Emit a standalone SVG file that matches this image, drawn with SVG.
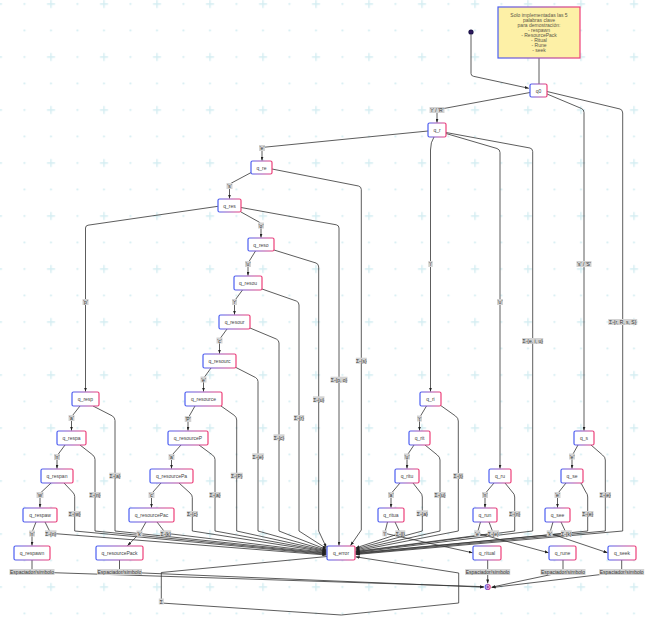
<svg xmlns="http://www.w3.org/2000/svg" width="653" height="634" viewBox="0 0 653 634">
<defs>
<style>
.n rect{fill:#fff;stroke:url(#gb);stroke-width:1.2}
.n text,.l text,.note text{font-family:"Liberation Sans",Arial,sans-serif;font-size:5px;text-anchor:middle;dominant-baseline:central}
.n text{fill:#444}
.e{fill:none;stroke:#333;stroke-width:0.8;stroke-linejoin:round}
.a{marker-end:url(#ar)}
.l rect{fill:#d3d3d3}
.l text{fill:#333}
.note text{fill:#5a5646}
</style>
<linearGradient id="gb" x1="0" y1="0" x2="1" y2="0"><stop offset="0" stop-color="#4a5ef2"/><stop offset="1" stop-color="#ee3f78"/></linearGradient>
<radialGradient id="gs"><stop offset="0" stop-color="#3a1a6a"/><stop offset="1" stop-color="#141040"/></radialGradient>
<marker id="ar" viewBox="0 0 8 6" refX="8" refY="3" markerWidth="4" markerHeight="3" markerUnits="userSpaceOnUse" orient="auto"><path d="M0,0 L8,3 L0,6 z" fill="#222"/></marker>
<pattern id="grid" x="11.25" y="-35.75" width="53" height="53" patternUnits="userSpaceOnUse">
<g fill="#d4edf2"><circle cx="13.25" cy="13.25" r="1.1"/><circle cx="39.75" cy="13.25" r="1.1"/><circle cx="13.25" cy="39.75" r="1.1"/></g>
<path d="M35.75,39.75h8M39.75,35.75v8" stroke="#d4edf2" stroke-width="1.4"/>
</pattern>
</defs>
<rect width="653" height="634" fill="#fff"/>
<rect width="653" height="634" fill="url(#grid)"/>

<g id="connectors">
<path class="e" d="M539,58 L539,84"/>
<path class="e a" d="M471,34.5 L471,73.5 Q471,75.8 473.5,76.3 L528.8,88.3"/>
<path class="e a" d="M530,92.5 L439.5,109.3 Q437,109.8 437,112 L437,122.6"/>
<path class="e a" d="M428,131 L264.5,147.2 Q262,147.5 262,150 L262,160.6"/>
<path class="e a" d="M251,172.6 L231.5,183 Q229.5,184 229.5,186.5 L229.5,198.6"/>
<path class="e a" d="M241,212 L259.5,222.3 Q261,223.2 261,225 L261,237.6"/>
<path class="e a" d="M218,206.3 L88,225.2 Q85.5,225.6 85.5,228 L85.5,391.6"/>
<path class="e a" d="M255.5,251 L249,261.5 Q248,263 248,265 L248,275.6"/>
<path class="e a" d="M242.5,290 L235.5,299.5 Q234.5,301 234.5,303 L234.5,314.6"/>
<path class="e a" d="M227,329 L220.5,338 Q219.5,339.5 219.5,341.5 L219.5,353.6"/>
<path class="e a" d="M211,368 L204.5,377 Q203.5,378.5 203.5,380.5 L203.5,391.6"/>
<path class="e a" d="M195,406 L189,416.5 Q188,418 188,420 L188,430.6"/>
<path class="e a" d="M181,445 L172.5,454.5 Q171.5,456 171.5,458 L171.5,468.6"/>
<path class="e a" d="M161,483 L152.5,492.5 Q151.5,494 151.5,496 L151.5,507.6"/>
<path class="e a" d="M146,522 L139.5,533.5 L127.5,545.7"/>
<path class="e a" d="M80,406 L72.5,415.5 Q71.5,417 71.5,419 L71.5,430.6"/>
<path class="e a" d="M65,445 L58,454.5 Q57,456 57,458 L57,468.6"/>
<path class="e a" d="M51,483 L41,492.5 Q40,494 40,496 L40,507.6"/>
<path class="e a" d="M36,522 L32.5,531 Q32,532.5 32,534 L32,545.6"/>
<path class="e a" d="M434,137 Q430.5,142 430.5,150 L430.5,391.6"/>
<path class="e a" d="M446,133.5 L497,148.5 Q500,149.5 500,152.5 L500,468.6"/>
<path class="e a" d="M426.5,406 L420.5,416 Q419.5,417.5 419.5,419.5 L419.5,430.6"/>
<path class="e a" d="M414,445 L408,454 Q407,455.5 407,457.5 L407,468.6"/>
<path class="e a" d="M400,483 L392,492.5 Q391,494 391,496 L391,507.6"/>
<path class="e a" d="M387.5,522 L384.7,533.3 L472.6,552.8"/>
<path class="e a" d="M494,483 L486,492.5 Q485,494 485,496 L485,507.6"/>
<path class="e a" d="M480.5,522 L477.3,533.3 L548.6,552.8"/>
<path class="e a" d="M547,94 L581.5,108.5 Q584,109.6 584,112.5 L584,430.6"/>
<path class="e a" d="M578,445 L573,454 Q572,455.5 572,457.5 L572,468.6"/>
<path class="e a" d="M566,483 L558.5,492.5 Q557.5,494 557.5,496 L557.5,507.6"/>
<path class="e a" d="M553,522 L549.7,533.3 L607.6,552.8"/>

<path class="e a" d="M547,91.5 L620,109 Q622.7,109.8 622.7,113 L622.7,531 L355.6,554.5"/>
<path class="e a" d="M446,132.5 L530,148 Q532.7,148.8 532.7,151.5 L532.7,531 L355.6,552.5"/>
<path class="e a" d="M591,445 L602.5,455 Q605.3,457 605.3,460 L605.3,531 L355.6,554"/>
<path class="e a" d="M581,483 L585.8,492 Q587.7,494 587.7,497 L587.7,531 L355.6,553.5"/>
<path class="e a" d="M561,522 L566.3,533.3 L355.6,553"/>
<path class="e a" d="M505,483 L512.3,492 Q514.7,494 514.7,497 L514.7,531 L355.6,552"/>
<path class="e a" d="M489,522 L493.3,533.3 L355.6,551.5"/>
<path class="e a" d="M440,405 L455.5,416 Q458.3,418 458.3,421 L458.3,531 L355.6,551"/>
<path class="e a" d="M425,445 L437.3,455 Q440,457 440,460 L440,531 L355.6,550"/>
<path class="e a" d="M413,483 L420,492 Q422.3,494 422.3,497 L422.3,531 L355.6,549"/>
<path class="e a" d="M395,522 L400.3,533.3 L355.6,548"/>

<path class="e a" d="M272,169 L358.5,186 Q361.3,186.8 361.3,189.5 L361.3,530 L350.5,545.6"/>
<path class="e a" d="M241,207.5 L336.3,224.8 Q339,225.4 339,228 L339,545.6"/>
<path class="e a" d="M274,250 L316,263 Q318.7,264 318.7,267 L318.7,531 L326.4,547.5"/>
<path class="e a" d="M262,289 L296.3,301 Q299,302 299,305 L299,531 L326.4,548.5"/>
<path class="e a" d="M250,328 L276.3,339 Q279,340.3 279,343 L279,531 L326.4,549.5"/>
<path class="e a" d="M235,367 L255.5,377.5 Q258,379 258,381.5 L258,531 L326.4,550.2"/>
<path class="e a" d="M221,406 L234.5,415.5 Q236.7,417.5 236.7,420 L236.7,531 L326.4,550.8"/>
<path class="e a" d="M199,445 L212.5,455 Q215,457 215,459.5 L215,531 L326.4,551.4"/>
<path class="e a" d="M179,483 L190,493 Q192.3,495 192.3,497.5 L192.3,531 L326.4,552"/>
<path class="e a" d="M157,522 L165.7,533.3 L326.4,552.6"/>
<path class="e a" d="M93,406 L112.5,416 Q115,418 115,420.5 L115,531 L326.4,553.2"/>
<path class="e a" d="M80,445 L92.8,455 Q95,457 95,459.5 L95,531 L326.4,553.8"/>
<path class="e a" d="M64,483 L72.5,492 Q74.7,494 74.7,496.5 L74.7,531 L326.4,554.4"/>
<path class="e a" d="M45,522 L50.7,533.3 L326.4,555"/>

<path class="e a" d="M327,556.5 L161.3,572.5 L161.3,603 L341.3,615 L458.7,603 L458.7,573 L355.6,556.8"/>

<path class="e a" d="M32,560 L32,572 L483.8,586.7"/>
<path class="e a" d="M119.5,560 L119.5,572 L483.8,587.2"/>
<path class="e a" d="M487.7,560 L487.7,583.4"/>
<path class="e a" d="M563,560 L563,572 L491.6,587.2"/>
<path class="e a" d="M621.7,560 L621.7,572 L491.6,587.6"/>

<g class="l"><rect x="429.5" y="107" width="15" height="6"/><text x="437" y="110.2">'r' / 'R'</text></g>
<g class="l"><rect x="259" y="145" width="6" height="6"/><text x="262" y="148.2">'e'</text></g>
<g class="l"><rect x="226.5" y="183" width="6" height="6"/><text x="229.5" y="186.2">'s'</text></g>
<g class="l"><rect x="258" y="222.5" width="6" height="6"/><text x="261" y="225.7">'o'</text></g>
<g class="l"><rect x="82.5" y="299" width="6" height="6"/><text x="85.5" y="302.2">'p'</text></g>
<g class="l"><rect x="245" y="261" width="6" height="6"/><text x="248" y="264.2">'u'</text></g>
<g class="l"><rect x="232" y="299" width="5" height="6"/><text x="234.5" y="302.2">'r'</text></g>
<g class="l"><rect x="216.5" y="337.5" width="6" height="6"/><text x="219.5" y="340.7">'c'</text></g>
<g class="l"><rect x="200.5" y="376.5" width="6" height="6"/><text x="203.5" y="379.7">'e'</text></g>
<g class="l"><rect x="184.75" y="416" width="6.5" height="6"/><text x="188" y="419.2">'P'</text></g>
<g class="l"><rect x="168.5" y="454" width="6" height="6"/><text x="171.5" y="457.2">'a'</text></g>
<g class="l"><rect x="148.5" y="492" width="6" height="6"/><text x="151.5" y="495.2">'c'</text></g>
<g class="l"><rect x="136.5" y="530.5" width="6" height="6"/><text x="139.5" y="533.7">'k'</text></g>
<g class="l"><rect x="68.5" y="415" width="6" height="6"/><text x="71.5" y="418.2">'a'</text></g>
<g class="l"><rect x="54" y="454" width="6" height="6"/><text x="57" y="457.2">'n'</text></g>
<g class="l"><rect x="36.5" y="492" width="7" height="6"/><text x="40" y="495.2">'w'</text></g>
<g class="l"><rect x="29" y="530.5" width="6" height="6"/><text x="32" y="533.7">'n'</text></g>
<g class="l"><rect x="428.25" y="261" width="4.5" height="6"/><text x="430.5" y="264.2">'i'</text></g>
<g class="l"><rect x="497" y="299" width="6" height="6"/><text x="500" y="302.2">'u'</text></g>
<g class="l"><rect x="417" y="415.5" width="5" height="6"/><text x="419.5" y="418.7">'t'</text></g>
<g class="l"><rect x="404" y="453.5" width="6" height="6"/><text x="407" y="456.7">'u'</text></g>
<g class="l"><rect x="388" y="492" width="6" height="6"/><text x="391" y="495.2">'a'</text></g>
<g class="l"><rect x="382.45" y="530.3" width="4.5" height="6"/><text x="384.7" y="533.5">'l'</text></g>
<g class="l"><rect x="482" y="492" width="6" height="6"/><text x="485" y="495.2">'n'</text></g>
<g class="l"><rect x="474.3" y="530.3" width="6" height="6"/><text x="477.3" y="533.5">'e'</text></g>
<g class="l"><rect x="576.5" y="261" width="15" height="6"/><text x="584" y="264.2">'s' / 'S'</text></g>
<g class="l"><rect x="569" y="453.5" width="6" height="6"/><text x="572" y="456.7">'e'</text></g>
<g class="l"><rect x="554.5" y="492" width="6" height="6"/><text x="557.5" y="495.2">'e'</text></g>
<g class="l"><rect x="546.7" y="530.3" width="6" height="6"/><text x="549.7" y="533.5">'k'</text></g>

<g class="l"><rect x="608.2" y="319" width="29" height="6"/><text x="622.7" y="322.2">Σ-{r, R, s, S}</text></g>
<g class="l"><rect x="522.2" y="338" width="21" height="6"/><text x="532.7" y="341.2">Σ-{e, i, u}</text></g>
<g class="l"><rect x="355.8" y="357.7" width="11" height="6"/><text x="361.3" y="360.9">Σ-{s}</text></g>
<g class="l"><rect x="330.5" y="376.7" width="17" height="6"/><text x="339" y="379.9">Σ-{p, o}</text></g>
<g class="l"><rect x="312.95" y="396.3" width="11.5" height="6"/><text x="318.7" y="399.5">Σ-{u}</text></g>
<g class="l"><rect x="293.75" y="415" width="10.5" height="6"/><text x="299" y="418.2">Σ-{r}</text></g>
<g class="l"><rect x="273.5" y="434.3" width="11" height="6"/><text x="279" y="437.5">Σ-{c}</text></g>
<g class="l"><rect x="252.25" y="453.3" width="11.5" height="6"/><text x="258" y="456.5">Σ-{e}</text></g>
<g class="l"><rect x="230.7" y="472.7" width="12" height="6"/><text x="236.7" y="475.9">Σ-{P}</text></g>
<g class="l"><rect x="209.25" y="492" width="11.5" height="6"/><text x="215" y="495.2">Σ-{a}</text></g>
<g class="l"><rect x="186.8" y="511" width="11" height="6"/><text x="192.3" y="514.2">Σ-{c}</text></g>
<g class="l"><rect x="160.2" y="530.3" width="11" height="6"/><text x="165.7" y="533.5">Σ-{k}</text></g>
<g class="l"><rect x="109.25" y="472.7" width="11.5" height="6"/><text x="115" y="475.9">Σ-{a}</text></g>
<g class="l"><rect x="89.25" y="492" width="11.5" height="6"/><text x="95" y="495.2">Σ-{n}</text></g>
<g class="l"><rect x="68.45" y="511" width="12.5" height="6"/><text x="74.7" y="514.2">Σ-{w}</text></g>
<g class="l"><rect x="44.95" y="530.3" width="11.5" height="6"/><text x="50.7" y="533.5">Σ-{n}</text></g>
<g class="l"><rect x="453.3" y="473" width="10" height="6"/><text x="458.3" y="476.2">Σ-{t}</text></g>
<g class="l"><rect x="434.25" y="492" width="11.5" height="6"/><text x="440" y="495.2">Σ-{u}</text></g>
<g class="l"><rect x="416.55" y="510.3" width="11.5" height="6"/><text x="422.3" y="513.5">Σ-{a}</text></g>
<g class="l"><rect x="395.3" y="530.3" width="10" height="6"/><text x="400.3" y="533.5">Σ-{l}</text></g>
<g class="l"><rect x="508.95" y="511" width="11.5" height="6"/><text x="514.7" y="514.2">Σ-{n}</text></g>
<g class="l"><rect x="487.55" y="530.3" width="11.5" height="6"/><text x="493.3" y="533.5">Σ-{e}</text></g>
<g class="l"><rect x="599.55" y="492" width="11.5" height="6"/><text x="605.3" y="495.2">Σ-{e}</text></g>
<g class="l"><rect x="581.95" y="511" width="11.5" height="6"/><text x="587.7" y="514.2">Σ-{e}</text></g>
<g class="l"><rect x="560.8" y="530.3" width="11" height="6"/><text x="566.3" y="533.5">Σ-{k}</text></g>
<g class="l"><rect x="158.8" y="598.5" width="5" height="6"/><text x="161.3" y="601.7">Σ</text></g>
<g class="l"><rect x="9.5" y="569" width="45" height="6"/><text x="32" y="572.2">Espaciador/símbolo</text></g>
<g class="l"><rect x="97" y="569" width="45" height="6"/><text x="119.5" y="572.2">Espaciador/símbolo</text></g>
<g class="l"><rect x="465.2" y="569" width="45" height="6"/><text x="487.7" y="572.2">Espaciador/símbolo</text></g>
<g class="l"><rect x="540.5" y="569" width="45" height="6"/><text x="563" y="572.2">Espaciador/símbolo</text></g>
<g class="l"><rect x="599.2" y="569" width="45" height="6"/><text x="621.7" y="572.2">Espaciador/símbolo</text></g>
</g>

<g id="note" class="note">
<rect x="498" y="7" width="82" height="51" fill="#fdf0a6" stroke="url(#gb)" stroke-width="1.2"/>
<text x="539" y="15">Solo implementadas las 5</text>
<text x="539" y="20">palabras clave</text>
<text x="539" y="25">para demostración:</text>
<text x="539" y="30">- respawn</text>
<text x="539" y="35">- ResourcePack</text>
<text x="539" y="40">- Ritual</text>
<text x="539" y="45">- Rune</text>
<text x="539" y="50">- seek</text>
</g>

<g id="start"><circle cx="471" cy="32" r="2.6" fill="url(#gs)"/></g>
<g id="final"><circle cx="487.7" cy="587" r="3.1" fill="url(#gb)"/><circle cx="487.7" cy="587" r="1.7" fill="none" stroke="#fff" stroke-width="0.6"/></g>

<g id="q0" class="n"><rect x="530" y="84" width="17" height="13" rx="1.5"/><text x="538.5" y="90.7">q0</text></g>
<g id="q_r" class="n"><rect x="428" y="123" width="18" height="14" rx="1.5"/><text x="437" y="130.2">q_r</text></g>
<g id="q_re" class="n"><rect x="251" y="161" width="21" height="13" rx="1.5"/><text x="261.5" y="167.7">q_re</text></g>
<g id="q_res" class="n"><rect x="218" y="199" width="23" height="13" rx="1.5"/><text x="229.5" y="205.7">q_res</text></g>
<g id="q_reso" class="n"><rect x="248" y="238" width="26" height="13" rx="1.5"/><text x="261" y="244.7">q_reso</text></g>
<g id="q_resou" class="n"><rect x="234" y="276" width="28" height="14" rx="1.5"/><text x="248" y="283.2">q_resou</text></g>
<g id="q_resour" class="n"><rect x="219" y="315" width="31" height="14" rx="1.5"/><text x="234.5" y="322.2">q_resour</text></g>
<g id="q_resourc" class="n"><rect x="203" y="354" width="33" height="14" rx="1.5"/><text x="219.5" y="361.2">q_resourc</text></g>
<g id="q_resource" class="n"><rect x="185" y="392" width="37" height="14" rx="1.5"/><text x="203.5" y="399.2">q_resource</text></g>
<g id="q_resourceP" class="n"><rect x="168" y="431" width="40" height="14" rx="1.5"/><text x="188" y="438.2">q_resourceP</text></g>
<g id="q_resourcePa" class="n"><rect x="150" y="469" width="43" height="14" rx="1.5"/><text x="171.5" y="476.2">q_resourcePa</text></g>
<g id="q_resourcePac" class="n"><rect x="129" y="508" width="45" height="14" rx="1.5"/><text x="151.5" y="515.2">q_resourcePac</text></g>
<g id="q_resourcePack" class="n"><rect x="96" y="546" width="47" height="14" rx="1.5"/><text x="119.5" y="553.2">q_resourcePack</text></g>
<g id="q_resp" class="n"><rect x="72" y="392" width="27" height="14" rx="1.5"/><text x="85.5" y="399.2">q_resp</text></g>
<g id="q_respa" class="n"><rect x="57" y="431" width="29" height="14" rx="1.5"/><text x="71.5" y="438.2">q_respa</text></g>
<g id="q_respan" class="n"><rect x="41" y="469" width="32" height="14" rx="1.5"/><text x="57" y="476.2">q_respan</text></g>
<g id="q_respaw" class="n"><rect x="23" y="508" width="34" height="14" rx="1.5"/><text x="40" y="515.2">q_respaw</text></g>
<g id="q_respawn" class="n"><rect x="14" y="546" width="36" height="14" rx="1.5"/><text x="32" y="553.2">q_respawn</text></g>
<g id="q_ri" class="n"><rect x="420" y="392" width="21" height="14" rx="1.5"/><text x="430.5" y="399.2">q_ri</text></g>
<g id="q_rit" class="n"><rect x="409" y="431" width="21" height="14" rx="1.5"/><text x="419.5" y="438.2">q_rit</text></g>
<g id="q_ritu" class="n"><rect x="395" y="469" width="24" height="14" rx="1.5"/><text x="407" y="476.2">q_ritu</text></g>
<g id="q_ritua" class="n"><rect x="378" y="508" width="26" height="14" rx="1.5"/><text x="391" y="515.2">q_ritua</text></g>
<g id="q_ritual" class="n"><rect x="473" y="546" width="28" height="14" rx="1.5"/><text x="487" y="553.2">q_ritual</text></g>
<g id="q_ru" class="n"><rect x="489" y="469" width="22" height="14" rx="1.5"/><text x="500" y="476.2">q_ru</text></g>
<g id="q_run" class="n"><rect x="473" y="508" width="24" height="14" rx="1.5"/><text x="485" y="515.2">q_run</text></g>
<g id="q_rune" class="n"><rect x="549" y="546" width="27" height="14" rx="1.5"/><text x="562.5" y="553.2">q_rune</text></g>
<g id="q_s" class="n"><rect x="574" y="431" width="20" height="14" rx="1.5"/><text x="584" y="438.2">q_s</text></g>
<g id="q_se" class="n"><rect x="561" y="469" width="22" height="14" rx="1.5"/><text x="572" y="476.2">q_se</text></g>
<g id="q_see" class="n"><rect x="545" y="508" width="25" height="14" rx="1.5"/><text x="557.5" y="515.2">q_see</text></g>
<g id="q_seek" class="n"><rect x="608" y="546" width="28" height="14" rx="1.5"/><text x="622" y="553.2">q_seek</text></g>
<g id="q_error" class="n"><rect x="327" y="546" width="28" height="14" rx="1.5"/><text x="341" y="553.2">q_error</text></g>
</svg>
